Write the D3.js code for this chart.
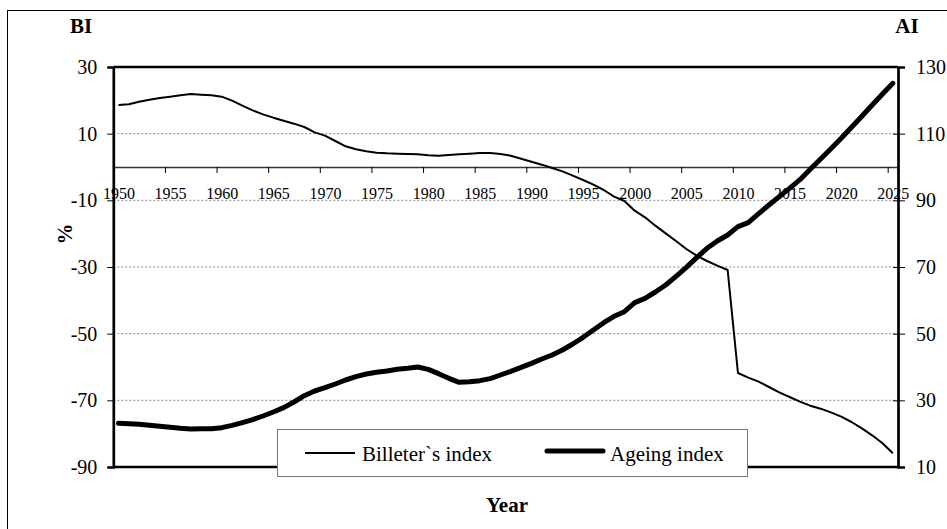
<!DOCTYPE html>
<html>
<head>
<meta charset="utf-8">
<script src="https://cdn.jsdelivr.net/npm/d3@7"></script>
<style>
  body { margin: 0; background: #fff; }
  svg, svg text { font-family: "Liberation Serif", "DejaVu Serif", serif; }
</style>
</head>
<body>
<div id="chart"></div>
<script>
'use strict';

var years = d3.range(1950, 2026);

// Billeter's index, % (left axis)
var billeter = [
  18.6, 18.8, 19.6, 20.2, 20.7, 21.1, 21.5, 21.9, 21.7, 21.5,
  21.1, 19.9, 18.4, 17.0, 15.8, 14.8, 13.9, 13.0, 12.0, 10.4,
  9.4, 7.8, 6.2, 5.3, 4.7, 4.3, 4.1, 4.0, 3.9, 3.8,
  3.5, 3.4, 3.6, 3.8, 4.0, 4.2, 4.2, 3.9, 3.4, 2.5,
  1.6, 0.7, -0.3, -1.3, -2.6, -3.9, -5.3, -6.9, -8.9, -10.2,
  -13.1, -15.1, -17.6, -19.9, -22.2, -24.6, -26.6, -28.2, -29.6, -30.9,
  -61.8, -63.2, -64.4, -66.0, -67.6, -69.0, -70.4, -71.6, -72.5, -73.6,
  -74.9, -76.5, -78.4, -80.5, -82.9, -85.9
];

// Ageing index (right axis)
var ageing = [
  23.1, 23.0, 22.8, 22.5, 22.2, 21.9, 21.6, 21.4, 21.5, 21.5,
  21.8, 22.5, 23.3, 24.2, 25.3, 26.5, 27.8, 29.5, 31.4, 32.8,
  33.8, 34.9, 36.1, 37.1, 37.9, 38.4, 38.8, 39.3, 39.6, 40.0,
  39.3, 38.0, 36.6, 35.4, 35.6, 35.9, 36.5, 37.6, 38.7, 39.9,
  41.1, 42.4, 43.6, 45.1, 46.9, 48.9, 51.1, 53.3, 55.2, 56.6,
  59.3, 60.6, 62.5, 64.6, 67.2, 69.9, 72.8, 75.6, 77.8, 79.6,
  82.1, 83.3, 86.0, 88.6, 91.1, 93.6, 96.2, 99.3, 102.4, 105.5,
  108.6, 111.9, 115.2, 118.6, 121.9, 125.1
];

var leftTicks = [30, 10, -10, -30, -50, -70, -90];
var rightTicks = [130, 110, 90, 70, 50, 30, 10];
var yearLabels = d3.range(1950, 2026, 5);

var seriesNames = ["Billeter`s index", "Ageing index"];

var width = 947, height = 529;
var plot = { left: 113.3, top: 67, right: 898, bottom: 467 };
var serif = "Liberation Serif";

var svg = d3.select("#chart").append("svg")
  .attr("width", width)
  .attr("height", height)
  .attr("font-family", serif);

// outer frame (runs past right and bottom edges)
svg.append("rect")
  .attr("x", 7.5).attr("y", 10.5)
  .attr("width", 960).attr("height", 540)
  .attr("fill", "none").attr("stroke", "#000").attr("stroke-width", 1);

var xScale = d3.scaleLinear()
  .domain([1949.5, 2025.5])
  .range([plot.left, plot.right]);

var yLeft = d3.scaleLinear()
  .domain([-90, 30])
  .range([plot.bottom, plot.top]);

var yRight = d3.scaleLinear()
  .domain([10, 130])
  .range([plot.bottom, plot.top]);

// plain hyphen like the original, not the unicode minus
var plainNum = function(d){ return String(d); };

// gridlines
svg.append("g").attr("class", "grid")
  .selectAll("line")
  .data(leftTicks.filter(function(d){ return d > -90 && d < 30; }))
  .enter().append("line")
  .attr("x1", plot.left).attr("x2", plot.right)
  .attr("y1", function(d){ return yLeft(d); })
  .attr("y2", function(d){ return yLeft(d); })
  .attr("stroke", "#888")
  .attr("stroke-width", 1)
  .attr("stroke-dasharray", "2,2");

// x axis sits on BI = 0
var y0 = yLeft(0);
var xTickGen = d3.axisBottom(xScale)
  .tickValues(d3.range(1949.5, 2025, 5))
  .tickSize(6)
  .tickFormat("");
var xTicks = svg.append("g")
  .attr("transform", "translate(0," + y0 + ")")
  .call(xTickGen);
xTicks.select(".domain").attr("stroke", "#333").attr("stroke-width", 1.6);
xTicks.selectAll(".tick line").attr("stroke", "#000").attr("stroke-width", 1);

var xLabelGen = d3.axisBottom(xScale)
  .tickValues(yearLabels)
  .tickSize(0)
  .tickPadding(21)
  .tickFormat(plainNum);
var xLabels = svg.append("g")
  .attr("transform", "translate(0," + y0 + ")")
  .call(xLabelGen)
  .attr("font-family", serif)
  .attr("font-size", 16);
xLabels.select(".domain").remove();
xLabels.selectAll("text").attr("fill", "#000");

// plot area border
svg.append("line")
  .attr("x1", plot.left).attr("x2", plot.right)
  .attr("y1", plot.top).attr("y2", plot.top)
  .attr("stroke", "#000").attr("stroke-width", 2.5);
svg.append("line")
  .attr("x1", plot.left).attr("x2", plot.right)
  .attr("y1", plot.bottom).attr("y2", plot.bottom)
  .attr("stroke", "#000").attr("stroke-width", 2.5);

// left axis
var yAxisGenL = d3.axisLeft(yLeft).tickValues(leftTicks).tickSize(6).tickPadding(10).tickFormat(plainNum);
var yAxisL = svg.append("g")
  .attr("transform", "translate(" + plot.left + ",0)")
  .call(yAxisGenL)
  .attr("font-family", serif)
  .attr("font-size", 20);
yAxisL.select(".domain").attr("stroke-width", 2.7);
yAxisL.selectAll("text").attr("fill", "#000");

// right axis (ticks cross the line)
var yAxisGenR = d3.axisRight(yRight).tickValues(rightTicks).tickSize(7).tickPadding(11).tickFormat(plainNum);
var yAxisR = svg.append("g")
  .attr("transform", "translate(" + plot.right + ",0)")
  .call(yAxisGenR)
  .attr("font-family", serif)
  .attr("font-size", 20);
yAxisR.select(".domain").attr("stroke-width", 2.7);
yAxisR.selectAll(".tick line").attr("x1", -5);
yAxisR.selectAll("text").attr("fill", "#000");

// series
var biLine = d3.line()
  .x(function(d, i){ return xScale(years[i]); })
  .y(function(d){ return yLeft(d); });
var aiLine = d3.line()
  .x(function(d, i){ return xScale(years[i]); })
  .y(function(d){ return yRight(d); });

svg.append("path")
  .datum(billeter)
  .attr("d", biLine)
  .attr("fill", "none").attr("stroke", "#000")
  .attr("stroke-width", 2).attr("stroke-linejoin", "round");

svg.append("path")
  .datum(ageing)
  .attr("d", aiLine)
  .attr("fill", "none").attr("stroke", "#000")
  .attr("stroke-width", 5).attr("stroke-linejoin", "round").attr("stroke-linecap", "round");

// legend
var legend = svg.append("g").attr("class", "legend");
legend.append("rect")
  .attr("x", 277.5).attr("y", 429.5)
  .attr("width", 470).attr("height", 47)
  .attr("fill", "#fff").attr("stroke", "#777").attr("stroke-width", 1);

var legendItems = [
  { name: seriesNames[0], x: 305, w: 50, lw: 2, ly: 453 },
  { name: seriesNames[1], x: 547, w: 56, lw: 5, ly: 451 }
];
legendItems.forEach(function(d){
  legend.append("line")
    .attr("x1", d.x).attr("x2", d.x + d.w)
    .attr("y1", d.ly).attr("y2", d.ly)
    .attr("stroke", "#000").attr("stroke-width", d.lw)
    .attr("stroke-linecap", d.lw > 2 ? "round" : "butt");
  legend.append("text")
    .attr("x", d.x + d.w + 7).attr("y", 461)
    .attr("font-family", serif)
    .attr("font-size", 21)
    .text(d.name);
});

// axis titles
var titles = [
  { t: "BI", x: 81, y: 33, rot: 0 },
  { t: "AI", x: 907, y: 33, rot: 0 },
  { t: "%", x: 72, y: 234, rot: -90 },
  { t: "Year", x: 507, y: 512, rot: 0 }
];
titles.forEach(function(d){
  svg.append("text")
    .attr("transform", "translate(" + d.x + "," + d.y + ") rotate(" + d.rot + ")")
    .attr("text-anchor", "middle")
    .attr("font-family", serif)
    .attr("font-size", 21).attr("font-weight", "bold")
    .text(d.t);
});
</script>
</body>
</html>
